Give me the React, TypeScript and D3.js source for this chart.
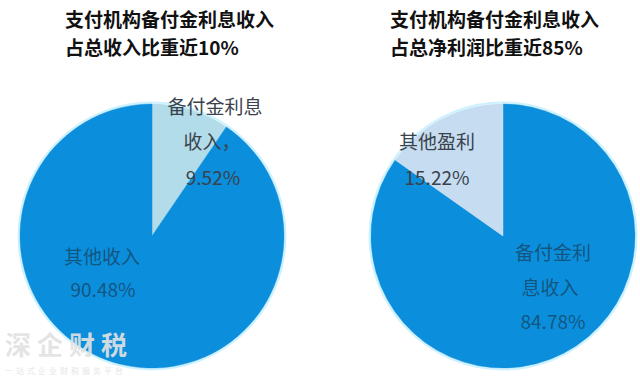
import React from "react";
import * as d3 from "d3";

const leftLabels = ["备付金利息收入", "其他收入"];
const leftValues = [9.52, 90.48];
const rightLabels = ["备付金利息收入", "其他盈利"];
const rightValues = [84.78, 15.22];
const leftTitle = ["支付机构备付金利息收入", "占总收入比重近10%"];
const rightTitle = ["支付机构备付金利息收入", "占总净利润比重近85%"];

const W = 640;
const H = 379;
const R = 132;
const FONT = "'Noto Sans CJK SC', 'Noto Sans', sans-serif";
const BLUE = "#0b8edb";

type Pie = {
  cx: number;
  cy: number;
  values: number[];
  colors: string[];
};

function PieChart({ cx, cy, values, colors }: Pie) {
  const pie = d3.pie<number>().sort(null).value((d) => d);
  const arc = d3.arc<d3.PieArcDatum<number>>().innerRadius(0).outerRadius(R);
  const arcs = pie(values);
  return (
    <g transform={`translate(${cx},${cy})`}>
      <circle r={R + 1.5} fill="none" stroke="#bfefff" strokeWidth={2} opacity={0.8} />
      {arcs.map((a, i) => (
        <path key={i} d={arc(a) || ""} fill={colors[i]} stroke={colors[i]} strokeWidth={0.5} />
      ))}
    </g>
  );
}

export default function App() {
  const lcx = 152, lcy = 236;
  const rcx = 503, rcy = 236;
  const fmt = (v: number) => v.toFixed(2) + "%";
  const darkOnLight = "#3a424c";
  const onBlue = { fill: "#1a2430", fillOpacity: 0.55 };
  const off = 7;
  return (
    <svg width={W} height={H} style={{ position: "absolute", left: 0, top: 0, background: "#fff" }}>
      <rect width={W} height={H} fill="#fff" />
      {/* titles */}
      {leftTitle.map((t, i) => (
        <text key={"lt" + i} x={65} y={27 + i * 28} fontFamily={FONT} fontWeight={700} fontSize={19} fill="#111">
          {t}
        </text>
      ))}
      {rightTitle.map((t, i) => (
        <text key={"rt" + i} x={390} y={27 + i * 28} fontFamily={FONT} fontWeight={700} fontSize={19} fill="#111">
          {t}
        </text>
      ))}

      <PieChart cx={lcx} cy={lcy} values={leftValues} colors={["#b2dcea", BLUE]} />
      <PieChart cx={rcx} cy={rcy} values={rightValues} colors={[BLUE, "#c6dcf0"]} />

      {/* left labels */}
      <g fontFamily={FONT} fontSize={19} textAnchor="middle">
        <text x={215} y={107 + off} fill={darkOnLight}>{leftLabels[0].slice(0, 5)}</text>
        <text x={212} y={142 + off} fill={darkOnLight}>{leftLabels[0].slice(5) + "，"}</text>
        <text x={213} y={178 + off} fill={darkOnLight}>{fmt(leftValues[0])}</text>
        <text x={102} y={257 + off} {...onBlue}>{leftLabels[1]}</text>
        <text x={103} y={290 + off} {...onBlue}>{fmt(leftValues[1])}</text>
      </g>

      {/* right labels */}
      <g fontFamily={FONT} fontSize={19} textAnchor="middle">
        <text x={437} y={142 + off} fill={darkOnLight}>{rightLabels[1]}</text>
        <text x={437} y={178 + off} fill={darkOnLight}>{fmt(rightValues[1])}</text>
        <text x={553} y={253 + off} {...onBlue}>{rightLabels[0].slice(0, 4)}</text>
        <text x={550} y={288 + off} {...onBlue}>{rightLabels[0].slice(4)}</text>
        <text x={553} y={322 + off} {...onBlue}>{fmt(rightValues[0])}</text>
      </g>

      {/* watermark */}
      <text x={5} y={355} fontFamily={FONT} fontWeight={700} fontSize={26} fill="#e2e2e2" fillOpacity={0.92} letterSpacing={6}>
        深企财税
      </text>
      <text x={5} y={374} fontFamily={FONT} fontSize={8} fill="#e6e6e6" letterSpacing={3}>
        一站式企业财税服务平台
      </text>
    </svg>
  );
}
